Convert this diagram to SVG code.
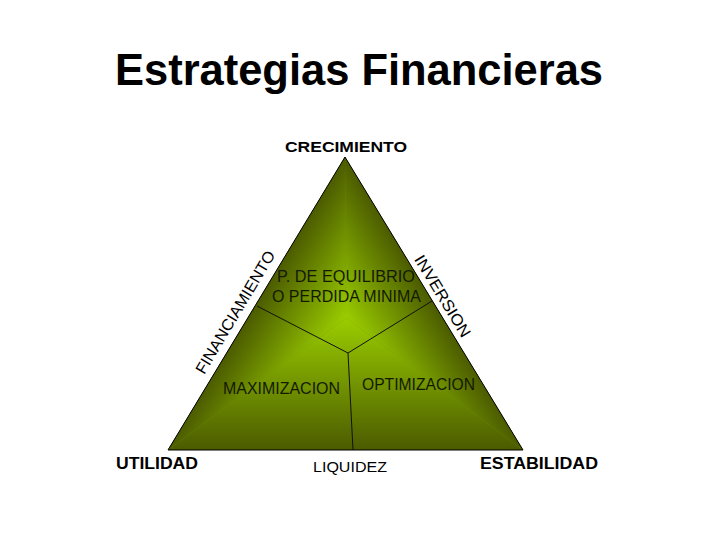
<svg xmlns="http://www.w3.org/2000/svg" width="720" height="540" viewBox="0 0 720 540">
<style>
.t{font-family:"Liberation Sans",Arial,sans-serif;fill:#000}
.b{font-weight:bold}
.in{fill:#141a00;font-size:16px}
.ln{stroke:#111;stroke-width:1;fill:none}
.e0{stop-color:#4b5b00}
.e1{stop-color:#9acd00}
</style>
<defs>
<linearGradient id="gb" gradientUnits="userSpaceOnUse" x1="346" y1="450" x2="346" y2="318"><stop offset="0" class="e0"/><stop offset="1" class="e1"/></linearGradient>
<linearGradient id="gl" gradientUnits="userSpaceOnUse" x1="274" y1="274.5" x2="346" y2="318"><stop offset="0" class="e0"/><stop offset="1" class="e1"/></linearGradient>
<linearGradient id="gr" gradientUnits="userSpaceOnUse" x1="416.8" y1="275" x2="346" y2="318"><stop offset="0" class="e0"/><stop offset="1" class="e1"/></linearGradient>
</defs>
<rect width="720" height="540" fill="#fff"/>
<text class="t b" x="359" y="85" font-size="44" text-anchor="middle" textLength="488" lengthAdjust="spacingAndGlyphs">Estrategias Financieras</text>
<g id="triangle">
<polygon points="345,157 168,450 523,450" fill="#6f8f00"/>
<polygon points="346,318 168,450 523,450" fill="url(#gb)"/>
<polygon points="346,318 345,157 168,450" fill="url(#gl)"/>
<polygon points="346,318 345,157 523,450" fill="url(#gr)"/>
<polygon points="345,157 168,450 523,450" fill="none" stroke="#000" stroke-width="1"/>
</g>
<g id="connectors">
<polyline class="ln" points="257,306 348,353 432,301"/>
<polyline class="ln" points="348,353 353,450"/>
</g>
<g id="crecimiento"><text class="t b" x="346" y="152" font-size="15" text-anchor="middle" textLength="122" lengthAdjust="spacingAndGlyphs">CRECIMIENTO</text></g>
<g id="utilidad"><text class="t b" x="116" y="469" font-size="16" textLength="82" lengthAdjust="spacingAndGlyphs">UTILIDAD</text></g>
<g id="liquidez"><text class="t" x="313" y="472" font-size="15" textLength="74" lengthAdjust="spacingAndGlyphs">LIQUIDEZ</text></g>
<g id="estabilidad"><text class="t b" x="480" y="469" font-size="16" textLength="118" lengthAdjust="spacingAndGlyphs">ESTABILIDAD</text></g>
<g id="equilibrio">
<text class="t in" x="277" y="282" textLength="138" lengthAdjust="spacingAndGlyphs">P. DE EQUILIBRIO</text>
<text class="t in" x="272" y="302" textLength="149" lengthAdjust="spacingAndGlyphs">O PERDIDA MINIMA</text>
</g>
<g id="maximizacion"><text class="t in" x="223" y="394" textLength="117" lengthAdjust="spacingAndGlyphs">MAXIMIZACION</text></g>
<g id="optimizacion"><text class="t in" x="362" y="390" textLength="113" lengthAdjust="spacingAndGlyphs">OPTIMIZACION</text></g>
<g id="financiamiento"><text class="t" font-size="16" text-anchor="middle" transform="translate(240,315) rotate(-59.2)" textLength="140" lengthAdjust="spacingAndGlyphs">FINANCIAMIENTO</text></g>
<g id="inversion"><text class="t" font-size="16" text-anchor="middle" transform="translate(438,299) rotate(58.7)" textLength="93" lengthAdjust="spacingAndGlyphs">INVERSION</text></g>
</svg>
